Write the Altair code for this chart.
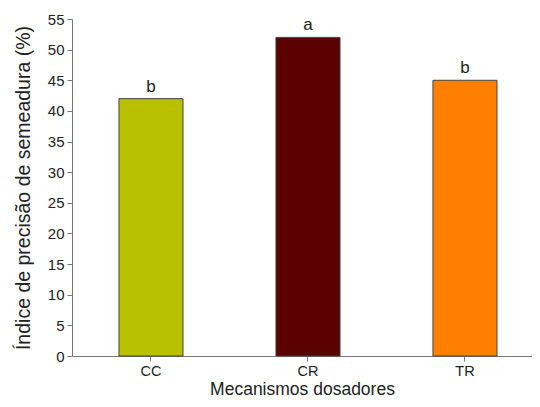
import altair as alt
import pandas as pd

categories = ["CC", "CR", "TR"]
values = [42, 52, 45]
letters = ["b", "a", "b"]
colors = ["#b8c000", "#5a0000", "#ff8000"]

df = pd.DataFrame({"cat": categories, "val": values, "letter": letters})

F = "Liberation Sans"
x = alt.X("cat:N", sort=categories, title="Mecanismos dosadores",
          scale=alt.Scale(paddingInner=0.592, paddingOuter=0.261, align=0.573),
          axis=alt.Axis(labelAngle=0, labelFontSize=14.5, titleFontSize=17.5,
                        labelColor="#222", titleColor="#222", titleFontWeight="normal",
                        domainColor="#777", tickColor="#777", tickSize=5,
                        labelPadding=3, titleY=38, titleBaseline="alphabetic",
                        labelFont=F, titleFont=F))
y = alt.Y("val:Q", title="Índice de precisão de semeadura (%)",
          scale=alt.Scale(domain=[0, 55], nice=False),
          axis=alt.Axis(values=list(range(0, 56, 5)), grid=False, labelFontSize=15,
                        labelOverlap=False, labelFlush=False,
                        titleFontSize=19.5, labelColor="#222", titleColor="#222",
                        titleFontWeight="normal", domainColor="#777", tickColor="#777",
                        tickSize=5, labelPadding=3, titlePadding=14,
                        labelFont=F, titleFont=F))

bars = alt.Chart(df).mark_bar(stroke="#444", strokeWidth=1).encode(
    x=x, y=y,
    color=alt.Color("cat:N", scale=alt.Scale(domain=categories, range=colors), legend=None),
)
text = alt.Chart(df).mark_text(dy=-7, baseline="alphabetic", fontSize=17, font=F,
                               color="#222").encode(x=x, y=y, text="letter:N")

chart = (bars + text).properties(
    width=460, height=337,
    autosize=alt.AutoSizeParams(type="none"),
    padding={"left": 64, "top": 11, "right": 0, "bottom": 43},
).configure_view(stroke=None)

chart.save("out.html", embed_options={"renderer": "svg", "actions": False})
